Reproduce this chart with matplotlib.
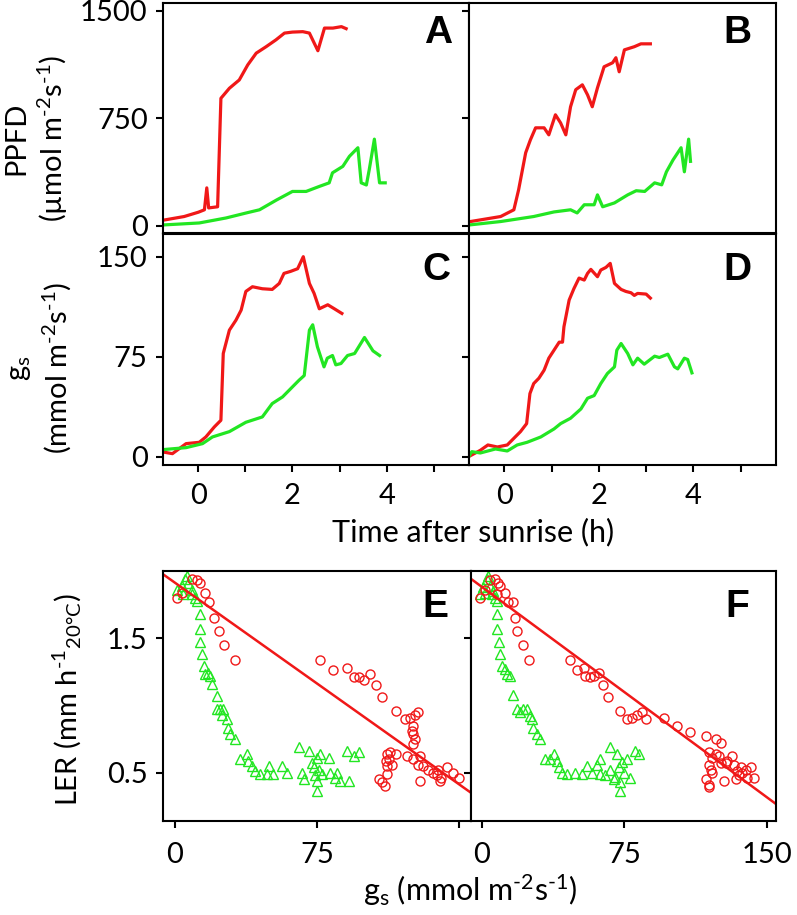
import matplotlib
matplotlib.use("Agg")
import matplotlib.pyplot as plt

plt.rcParams['font.family'] = ['Lato', 'DejaVu Sans']
plt.rcParams['mathtext.default'] = 'regular'

RED = '#f01818'
GREEN = '#22e622'

# ---------------- DATA ----------------
# Panel A (PPFD, umol m-2 s-1)
a_red_t = [-0.70, -0.30, 0.0, 0.13, 0.18, 0.22, 0.41, 0.48, 0.66, 0.87, 1.05, 1.23, 1.44, 1.65,
           1.83, 2.0, 2.22, 2.36, 2.54, 2.68, 2.86, 3.04, 3.14]
a_red_v = [42, 65, 95, 112, 265, 125, 133, 890, 960, 1018, 1123, 1205, 1250, 1298,
           1345, 1352, 1355, 1345, 1222, 1380, 1380, 1390, 1376]
a_grn_t = [-0.70, 0.02, 0.59, 1.02, 1.30, 1.66, 2.0, 2.29, 2.57, 2.78, 2.85, 3.07, 3.21, 3.39,
           3.46, 3.57, 3.63, 3.74, 3.85, 3.97]
a_grn_v = [7, 20, 55, 90, 112, 180, 240, 240, 275, 300, 370, 415, 485, 545,
           300, 285, 390, 605, 300, 300]

# Panel B
b_red_t = [-0.72, -0.08, 0.20, 0.30, 0.45, 0.55, 0.66, 0.84, 0.94, 1.08, 1.19, 1.30, 1.40, 1.51,
           1.65, 1.76, 1.86, 1.97, 2.11, 2.29, 2.36, 2.43, 2.54, 2.75, 2.89, 3.09]
b_red_v = [30, 65, 112, 251, 510, 600, 684, 684, 635, 775, 718, 635, 831, 950,
           984, 914, 831, 963, 1110, 1138, 1173, 1075, 1228, 1250, 1270, 1270]
b_grn_t = [-0.72, -0.08, 0.62, 1.05, 1.40, 1.54, 1.69, 1.90, 1.97, 2.08, 2.33, 2.61, 2.79, 2.97,
           3.18, 3.33, 3.43, 3.57, 3.74, 3.81, 3.90, 3.94]
b_grn_v = [7, 30, 65, 97, 112, 90, 147, 147, 216, 133, 160, 216, 245, 240,
           300, 286, 377, 460, 545, 377, 605, 450]

# Panel C (gs, mmol m-2 s-1)
c_red_t = [-0.76, -0.55, -0.26, 0.02, 0.16, 0.34, 0.48, 0.53, 0.66, 0.80, 0.91, 1.01, 1.15, 1.36,
           1.57, 1.72, 1.82, 1.96, 2.11, 2.23, 2.36, 2.46, 2.57, 2.75, 2.89, 3.05]
c_red_v = [3.8, 2.5, 10, 11, 15, 22.5, 27.5, 77.5, 95, 102.5, 110, 124, 127.5, 126,
           125.5, 130, 137.5, 139, 141, 150, 130, 122.5, 111, 114, 111, 107.5]
c_grn_t = [-0.76, -0.26, 0.09, 0.30, 0.66, 1.01, 1.36, 1.57, 1.79, 2.0, 2.14, 2.25, 2.36, 2.43,
           2.53, 2.67, 2.74, 2.85, 2.92, 3.03, 3.17, 3.32, 3.53, 3.71, 3.85]
c_grn_v = [5.5, 7, 10, 15, 19, 26, 30, 40, 45, 52.5, 57.5, 61, 95, 99,
           82.5, 67.5, 74, 76, 69, 70, 76, 77.5, 89.5, 79.5, 76]

# Panel D
d_red_t = [-0.72, -0.51, -0.35, -0.15, 0.06, 0.20, 0.34, 0.47, 0.54, 0.62, 0.73, 0.84, 0.94, 1.05,
           1.16, 1.23, 1.26, 1.37, 1.47, 1.58, 1.69, 1.76, 1.83, 1.97, 2.04, 2.15, 2.24, 2.33,
           2.47, 2.57, 2.68, 2.75, 2.82, 3.0, 3.09]
d_red_v = [1, 5, 9, 7.5, 9, 14, 19, 25, 47.5, 55, 59, 65, 74, 80,
           86, 86, 97.5, 117.5, 126, 134, 132.5, 137.5, 140.5, 135, 140, 142, 145, 130,
           125.5, 124, 123, 121, 122.5, 122, 119]
d_grn_t = [-0.76, -0.69, -0.51, -0.19, 0.06, 0.27, 0.48, 0.77, 1.05, 1.19, 1.40, 1.62, 1.76, 1.90,
           2.04, 2.18, 2.33, 2.38, 2.47, 2.61, 2.72, 2.82, 2.96, 3.18, 3.28, 3.46, 3.60, 3.67,
           3.81, 3.88, 3.97]
d_grn_v = [0, 4, 3, 6, 4.5, 9, 11, 15, 21, 25, 29, 36, 44, 46,
           55, 62.5, 67.5, 80, 85, 77.5, 69, 74, 69.5, 75.5, 74.5, 77, 67.5, 66,
           74, 73, 63]

# Panel E (LER vs gs)
e_red_gs = [0.9, 3.5, 8.8, 11.5, 13.2, 15.9, 18.2, 20.6, 23.3, 25.9, 31.9, 76.4, 83.5, 90.9,
            94.4, 97.1, 99.7, 103.2, 105.9, 109.4, 116.9,
            107.7, 109.4, 110.7, 112.1, 112.1, 113.0, 112.1, 113.8, 114.7, 111.2, 116.5,
            121.5, 124.1, 126.7, 128.5, 125.8, 125.8, 126.7, 125.8, 125.0, 122.3, 125.8, 129.3,
            128.5, 131.1, 133.7, 129.3, 136.3, 138.1, 139.0, 140.7, 139.9, 143.4, 146.9, 150.1]
e_red_ler = [1.80, 1.84, 1.94, 1.93, 1.91, 1.84, 1.77, 1.65, 1.55, 1.45, 1.34, 1.34, 1.26, 1.28,
             1.21, 1.21, 1.19, 1.23, 1.15, 1.06, 0.96,
             0.45, 0.43, 0.40, 0.49, 0.55, 0.60, 0.64, 0.65, 0.56, 0.59, 0.64,
             0.90, 0.91, 0.93, 0.95, 0.85, 0.79, 0.75, 0.71, 0.81, 0.62, 0.60, 0.62,
             0.56, 0.55, 0.52, 0.44, 0.50, 0.48, 0.52, 0.46, 0.44, 0.54, 0.50, 0.46]
e_grn_gs = [0.9, 3.5, 5.3, 6.2, 7.1, 4.4, 8.8, 10.6, 8.8, 11.5,
            13.2, 13.2, 13.2, 14.1, 15.4, 15.9, 17.6, 18.5, 19.4, 22.1, 22.1, 23.8, 24.7, 25.6,
            27.4, 28.2, 29.1, 31.8,
            34.4, 37.9, 38.8, 40.6, 42.4, 45.0, 48.5, 49.4, 52.0, 56.5, 59.1, 65.3, 67.1, 68.0,
            70.6, 72.4, 74.1, 75.0, 75.9, 75.0, 75.0, 76.8, 77.7, 73.2, 81.2, 82.1, 84.7, 85.6,
            87.4, 91.8, 90.9, 97.1, 94.4]
e_grn_ler = [1.86, 1.89, 1.94, 1.96, 1.91, 1.83, 1.86, 1.80, 1.83, 1.78,
             1.68, 1.57, 1.47, 1.38, 1.29, 1.23, 1.24, 1.22, 1.16, 1.07, 0.97, 0.97, 0.93, 0.97,
             0.90, 0.83, 0.79, 0.75,
             0.60, 0.64, 0.59, 0.55, 0.51, 0.49, 0.49, 0.55, 0.49, 0.55, 0.50, 0.69, 0.50, 0.45,
             0.66, 0.57, 0.48, 0.61, 0.52, 0.44, 0.36, 0.64, 0.49, 0.54, 0.61, 0.50, 0.46, 0.50,
             0.44, 0.44, 0.66, 0.65, 0.62]
e_fit = [1.913, -0.0100]   # intercept, slope

# Panel F
f_red_gs = [-1.1, 1.6, 4.2, 6.9, 8.6, 9.5, 7.7, 12.1, 13.9, 16.5, 17.4, 18.3, 21.8, 24.5,
            46.5, 50.0, 53.5, 54.4, 57.0, 58.8, 61.4, 63.7, 66.2, 72.9, 76.4, 79.0, 81.7, 84.3,
            86.1, 95.7, 102.8, 109.3,
            117.7, 123.0, 125.7, 119.5, 121.3, 123.0, 124.8, 119.5, 120.4, 117.8, 119.5, 119.5,
            121.3, 125.7, 127.4, 128.3, 131.8, 132.7, 134.4, 135.3, 137.1, 138.8, 139.7, 141.5,
            143.3, 134.0, 136.2, 129.2]
f_red_ler = [1.80, 1.86, 1.93, 1.94, 1.91, 1.89, 1.83, 1.84, 1.77, 1.77, 1.65, 1.55, 1.45, 1.34,
             1.34, 1.26, 1.28, 1.22, 1.21, 1.22, 1.24, 1.15, 1.06, 0.96, 0.90, 0.91, 0.93, 0.95,
             0.90, 0.91, 0.85, 0.80,
             0.77, 0.75, 0.72, 0.65, 0.61, 0.64, 0.62, 0.56, 0.52, 0.45, 0.41, 0.39,
             0.50, 0.57, 0.44, 0.57, 0.62, 0.56, 0.51, 0.48, 0.50, 0.52, 0.46, 0.54,
             0.46, 0.45, 0.54, 0.59]
f_grn_gs = [-1.1, 0.7, 2.5, 3.3, 4.2, 6.0, 6.9, 5.1, 7.7, 1.6,
            7.7, 8.1, 9.2, 9.5, 10.4, 12.1, 13.0, 14.8, 16.5, 18.3, 20.1, 21.8, 23.6, 25.3,
            26.2, 27.1, 28.9, 30.6,
            33.3, 35.9, 37.7, 39.4, 40.8, 42.1, 44.7, 49.1, 52.6, 55.3, 57.9, 60.5, 62.3, 62.3,
            65.0, 67.6, 67.6, 69.3, 71.1, 72.0, 72.9, 72.9, 73.7, 74.6, 76.4, 78.1, 80.8, 82.5,
            70.2]
f_grn_ler = [1.83, 1.88, 1.94, 1.96, 1.89, 1.85, 1.80, 1.83, 1.78, 1.84,
             1.68, 1.57, 1.47, 1.38, 1.29, 1.27, 1.23, 1.22, 1.08, 0.97, 0.95, 0.97, 0.97, 0.92,
             0.90, 0.83, 0.79, 0.75,
             0.60, 0.60, 0.64, 0.59, 0.54, 0.50, 0.49, 0.50, 0.49, 0.55, 0.50, 0.56, 0.49, 0.60,
             0.48, 0.69, 0.52, 0.45, 0.64, 0.54, 0.36, 0.43, 0.58, 0.50, 0.60, 0.46, 0.66, 0.64,
             0.47]
f_fit = [1.881, -0.01043]

time_ticks = [0, 1, 2, 3, 4, 5]
time_labels = ['0', '', '2', '', '4', '']

# ---------------- FIGURE ----------------
W, H = 797, 915
fig = plt.figure(figsize=(W / 100, H / 100), dpi=100)


def box(l, r, t, b):
    return [l / W, (H - b) / H, (r - l) / W, (b - t) / H]


def fx(px):
    return px / W


def fy(py):
    return 1 - py / H


axA = fig.add_axes(box(163, 469, 3, 233))
axB = fig.add_axes(box(469, 776, 3, 233))
axC = fig.add_axes(box(163, 469, 234, 465))
axD = fig.add_axes(box(469, 776, 234, 465))
axE = fig.add_axes(box(163, 471, 571, 821))
axF = fig.add_axes(box(471, 776, 571, 821))

TICK = 21
LAB = 21
for ax in [axA, axB, axC, axD, axE, axF]:
    for s in ax.spines.values():
        s.set_linewidth(1.5)
    ax.tick_params(direction='out', length=5, width=1.5, labelsize=TICK)
    ax.tick_params(axis='y', pad=6)
    ax.tick_params(axis='x', pad=8)
axE.tick_params(axis='x', pad=10)
axF.tick_params(axis='x', pad=10)

lw = 2.3
axA.plot(a_red_t, a_red_v, color=RED, lw=lw)
axA.plot(a_grn_t, a_grn_v, color=GREEN, lw=lw)
axB.plot(b_red_t, b_red_v, color=RED, lw=lw)
axB.plot(b_grn_t, b_grn_v, color=GREEN, lw=lw)
axC.plot(c_red_t, c_red_v, color=RED, lw=lw)
axC.plot(c_grn_t, c_grn_v, color=GREEN, lw=lw)
axD.plot(d_red_t, d_red_v, color=RED, lw=lw)
axD.plot(d_grn_t, d_grn_v, color=GREEN, lw=lw)

for ax in [axA, axB]:
    ax.set_xlim(-0.75, 5.75)
    ax.set_ylim(-50, 1555)
    ax.set_yticks([0, 750, 1500])
    ax.set_xticks(time_ticks)
    ax.set_xticklabels([])
for ax in [axC, axD]:
    ax.set_xlim(-0.75, 5.75)
    ax.set_ylim(-6, 167)
    ax.set_yticks([0, 75, 150])
    ax.set_xticks(time_ticks)
    ax.set_xticklabels(time_labels)
axB.set_yticklabels([])
axD.set_yticklabels([])

HY = '\u2010'
fig.text(fx(37), fy(138), 'PPFD\n(µmol m$^{%s2}$s$^{%s1}$)' % (HY, HY), fontsize=LAB,
         rotation=90, ha='center', va='center', linespacing=1.25)
fig.text(fx(40), fy(368), 'g$_s$\n(mmol m$^{%s2}$s$^{%s1}$)' % (HY, HY), fontsize=LAB,
         rotation=90, ha='center', va='center', linespacing=1.25)
fig.text(fx(473), fy(532), 'Time after sunrise (h)', fontsize=22, ha='center', va='center')


# scatter panels
def scatter_panel(ax, rg, rl, gg, gl, fit, xlim):
    ax.plot(gg, gl, linestyle='none', marker='^', ms=6.8, mfc='none', mec=GREEN, mew=1.0)
    ax.plot(rg, rl, linestyle='none', marker='o', ms=6.5, mfc='none', mec=RED, mew=1.0)
    xs = [xlim[0], xlim[1]]
    ax.plot(xs, [fit[0] + fit[1] * x for x in xs], color=RED, lw=1.8)
    ax.set_xlim(*xlim)
    ax.set_ylim(0.14, 2.0)
    ax.set_xticks([0, 75, 150])
    ax.set_yticks([0.5, 1.5])


scatter_panel(axE, e_red_gs, e_red_ler, e_grn_gs, e_grn_ler, e_fit, (-6.3, 156.3))
scatter_panel(axF, f_red_gs, f_red_ler, f_grn_gs, f_grn_ler, f_fit, (-5.8, 154.8))
axE.set_xticklabels(['0', '75', ''])
axF.set_yticklabels([])
fig.text(fx(67), fy(700), 'LER (mm h$^{%s1}$$_{20°C}$)' % HY, fontsize=LAB,
         rotation=90, ha='center', va='center')
fig.text(fx(470), fy(890), 'g$_s$ (mmol m$^{%s2}$s$^{%s1}$)' % (HY, HY), fontsize=22,
         ha='center', va='center')

# panel letters
letters = [(axA, 'A', 0.90, 0.87), (axB, 'B', 0.876, 0.87),
           (axC, 'C', 0.895, 0.845), (axD, 'D', 0.876, 0.845),
           (axE, 'E', 0.883, 0.856), (axF, 'F', 0.872, 0.856)]
for ax, lab, x, y in letters:
    ax.text(x, y, lab, transform=ax.transAxes, fontsize=28, fontweight='bold',
            family='Liberation Sans', ha='center', va='center')

fig.savefig('out.png', dpi=100)
